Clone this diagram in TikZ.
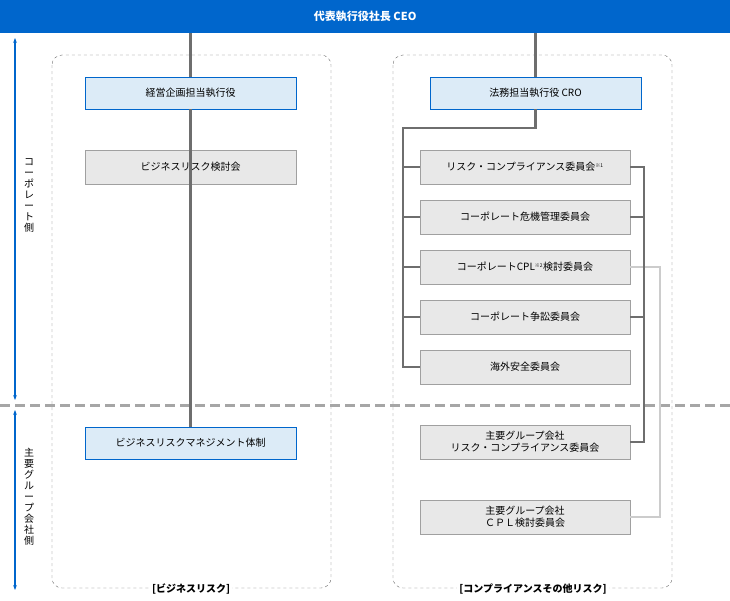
\documentclass[tikz,border=0pt]{standalone}
\usepackage{fontspec}
\setmainfont{Noto Sans CJK JP}
\usetikzlibrary{positioning,arrows.meta}
\definecolor{ceoblue}{HTML}{0066CC}
\definecolor{execfill}{HTML}{DCEBF7}
\definecolor{boxfill}{HTML}{E8E8E8}
\definecolor{boxline}{HTML}{A0A0A0}
\definecolor{darkline}{HTML}{6E6E6E}
\definecolor{lightline}{HTML}{CCCCCC}
\tikzset{
  exec/.style={draw=ceoblue,fill=execfill,minimum width=211pt,minimum height=32pt,font=\fontsize{10}{12}\selectfont},
  comm/.style={draw=boxline,fill=boxfill,minimum width=210pt,minimum height=34pt,font=\fontsize{10}{12}\selectfont,align=center},
  group/.style={dashed,draw=black!60,rounded corners=10pt},
  link/.style={darkline,line width=2.5pt},
  cpl/.style={lightline,line width=2.5pt},
  side/.style={ceoblue,line width=2pt,{Stealth[length=5pt]}-{Stealth[length=5pt]}},
}
\begin{document}
\begin{tikzpicture}[x=1pt,y=-1pt]
		\useasboundingbox (0,0) rectangle (730,600);
		% containers
		\draw[group] (52,55) rectangle (331,588);
		\draw[group] (393,55) rectangle (672,588);
		\draw[gray!70,line width=3pt,dash pattern=on 10pt off 5pt] (0,405) -- (730,405);

		% top
		\node[fill=ceoblue,text=white,minimum width=730pt,minimum height=33pt,anchor=north west,font=\bfseries\fontsize{11}{13}\selectfont] (ceo) at (0,0) {代表執行役社長 CEO};

		% business risk
		\node[exec] (cpo) at (190.5,93) {経営企画担当執行役};
		\node[comm,minimum width=211pt] (brc) at (190.5,167) {ビジネスリスク検討会};
		\node[exec] (brm) at (190.5,443) {ビジネスリスクマネジメント体制};
		\draw[link] (ceo.south -| cpo) -- (cpo);
		\draw[link] (cpo) -- (brm);

		% compliance
		\node[exec] (cro) at (535.5,93) {法務担当執行役 CRO};
		\node[comm] (rcc) at (525,167) {リスク・コンプライアンス委員会\textsuperscript{\tiny ※1}};
		\node[comm] (cmc) at (525,217) {コーポレート危機管理委員会};
		\node[comm] (cplc) at (525,267) {コーポレートCPL\textsuperscript{\tiny ※2}検討委員会};
		\node[comm] (cdc) at (525,317) {コーポレート争訟委員会};
		\node[comm] (osc) at (525,367) {海外安全委員会};
		\node[comm] (grcc) at (525,442) {主要グループ会社\\リスク・コンプライアンス委員会};
		\node[comm] (gcpl) at (525,517) {主要グループ会社\\ＣＰＬ検討委員会};
		\coordinate (bus) at (403,128);
		\draw[link] (ceo.south -| cro) -- (cro);
		\draw[link] (cro.south) |- (bus) |- (osc.west);
		\foreach \n in {rcc,cmc,cplc,cdc}
			\draw[link] (bus |- \n.west) -- (\n.west);
		\draw[cpl] (cplc.east) -| (660,517) -- (gcpl.east);
		\draw[link] (rcc.east) -| (644,442) -- (grcc.east);
		\foreach \n in {cmc,cdc}
			\draw[link] (\n.east) -- (644,0 |- \n.east);

		% sides
		\draw[side] (15,38) -- (15,400);
		\draw[side] (15,410) -- (15,590);
		\node[align=center,font=\fontsize{10}{11}\selectfont] (corp) at (29,195) {コ\\ー\\ポ\\レ\\ー\\ト\\側};
		\node[align=center,font=\fontsize{10}{11}\selectfont] (grp) at (29,497) {主\\要\\グ\\ル\\ー\\プ\\会\\社\\側};

		% labels
		\node[fill=white,inner sep=2pt,font=\bfseries\fontsize{10}{12}\selectfont] (bl) at (191,589) {[ビジネスリスク]};
		\node[fill=white,inner sep=2pt,font=\bfseries\fontsize{10}{12}\selectfont] (cl) at (533,589) {[コンプライアンスその他リスク]};
\end{tikzpicture}
\end{document}
